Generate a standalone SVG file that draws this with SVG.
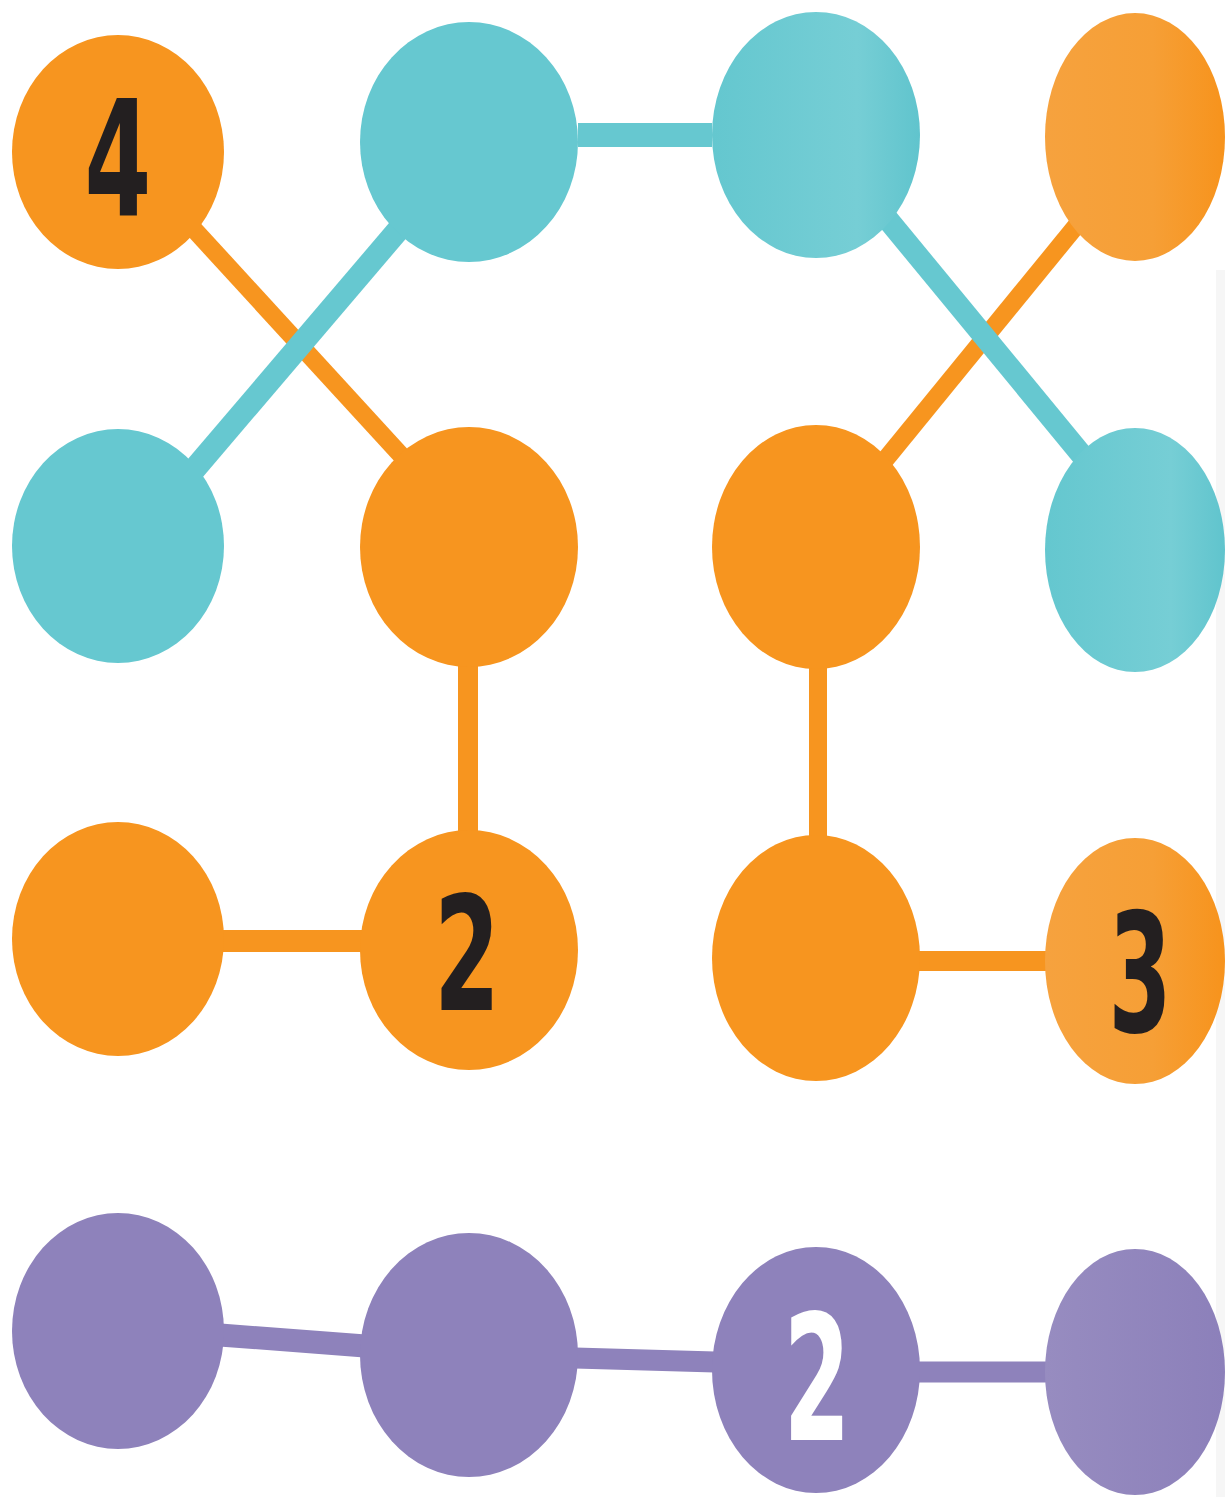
<svg xmlns="http://www.w3.org/2000/svg" width="1225" height="1497" viewBox="0 0 1225 1497">
  <style>
    .o { fill: #F7951F; }
    .t { fill: #66C8D0; }
    .p { fill: #8E82BB; }
    .lo { stroke: #F7951F; stroke-linecap: butt; fill: none; }
    .lt { stroke: #66C8D0; stroke-linecap: butt; fill: none; }
    .lp { stroke: #8E82BB; stroke-linecap: butt; fill: none; }
    .num { font-family: "DejaVu Sans", "Liberation Sans", sans-serif; font-weight: bold; text-anchor: middle; }
  </style>
  <defs>
    <linearGradient id="gTealR" x1="0" y1="0" x2="1" y2="0">
      <stop offset="0" stop-color="#64C7CF"/>
      <stop offset="0.7" stop-color="#76CED5"/>
      <stop offset="1" stop-color="#60C4CD"/>
    </linearGradient>
    <linearGradient id="gOrR" x1="0" y1="0" x2="1" y2="0">
      <stop offset="0" stop-color="#F6A23E"/>
      <stop offset="0.6" stop-color="#F69F36"/>
      <stop offset="1" stop-color="#F7931C"/>
    </linearGradient>
    <linearGradient id="gPurR" x1="0" y1="0" x2="1" y2="0">
      <stop offset="0" stop-color="#978CC0"/>
      <stop offset="1" stop-color="#8C80BA"/>
    </linearGradient>
  </defs>
  <rect x="0" y="0" width="1225" height="1497" fill="#FFFFFF"/>
  <rect x="1216" y="270" width="9" height="1227" fill="#F6F6F6"/>

  <g id="connectors">
    <line class="lo" x1="190" y1="225" x2="410" y2="465" stroke-width="18"/>
    <line class="lo" x1="1085" y1="215" x2="885" y2="460" stroke-width="18"/>
    <line class="lt" x1="578" y1="135" x2="712" y2="135" stroke-width="24"/>
    <line class="lt" x1="405" y1="222" x2="192" y2="472" stroke-width="23"/>
    <line class="lt" x1="880" y1="210" x2="1090" y2="465" stroke-width="22"/>
    <line class="lo" x1="468" y1="660" x2="468" y2="835" stroke-width="20"/>
    <line class="lo" x1="818" y1="662" x2="818" y2="840" stroke-width="18"/>
    <line class="lo" x1="220" y1="941" x2="365" y2="941" stroke-width="22"/>
    <line class="lo" x1="915" y1="961" x2="1050" y2="961" stroke-width="20"/>
    <line class="lp" x1="220" y1="1335" x2="365" y2="1346" stroke-width="23"/>
    <line class="lp" x1="575" y1="1358" x2="715" y2="1362" stroke-width="21"/>
    <line class="lp" x1="915" y1="1372" x2="1050" y2="1372" stroke-width="21"/>
  </g>

  <g id="n-r1c1"><ellipse class="o" cx="118" cy="152" rx="106" ry="117"/>
    <text class="num" transform="translate(118 215) scale(0.6 1)" font-size="160" fill="#231F20">4</text></g>
  <g id="n-r1c2"><ellipse class="t" cx="469" cy="142" rx="109" ry="120"/></g>
  <g id="n-r1c3"><ellipse cx="816" cy="135" rx="104" ry="123" fill="url(#gTealR)"/></g>
  <g id="n-r1c4"><ellipse cx="1135" cy="137" rx="90" ry="124" fill="url(#gOrR)"/></g>

  <g id="n-r2c1"><ellipse class="t" cx="118" cy="546" rx="106" ry="117"/></g>
  <g id="n-r2c2"><ellipse class="o" cx="469" cy="547" rx="109" ry="120"/></g>
  <g id="n-r2c3"><ellipse class="o" cx="816" cy="547" rx="104" ry="122"/></g>
  <g id="n-r2c4"><ellipse cx="1135" cy="550" rx="90" ry="122" fill="url(#gTealR)"/></g>

  <g id="n-r3c1"><ellipse class="o" cx="118" cy="939" rx="106" ry="117"/></g>
  <g id="n-r3c2"><ellipse class="o" cx="469" cy="950" rx="109" ry="120"/>
    <text class="num" transform="translate(467 1010) scale(0.6 1)" font-size="158" fill="#231F20">2</text></g>
  <g id="n-r3c3"><ellipse class="o" cx="816" cy="958" rx="104" ry="123"/></g>
  <g id="n-r3c4"><ellipse cx="1135" cy="961" rx="90" ry="123" fill="url(#gOrR)"/>
    <text class="num" transform="translate(1140 1032) scale(0.55 1)" font-size="165" fill="#231F20">3</text></g>

  <g id="n-r4c1"><ellipse class="p" cx="118" cy="1331" rx="106" ry="118"/></g>
  <g id="n-r4c2"><ellipse class="p" cx="469" cy="1355" rx="109" ry="122"/></g>
  <g id="n-r4c3"><ellipse class="p" cx="816" cy="1370" rx="104" ry="123"/>
    <text class="num" transform="translate(817 1440) scale(0.55 1)" font-size="175" fill="#FFFFFF">2</text></g>
  <g id="n-r4c4"><ellipse cx="1135" cy="1372" rx="90" ry="123" fill="url(#gPurR)"/></g>
</svg>
